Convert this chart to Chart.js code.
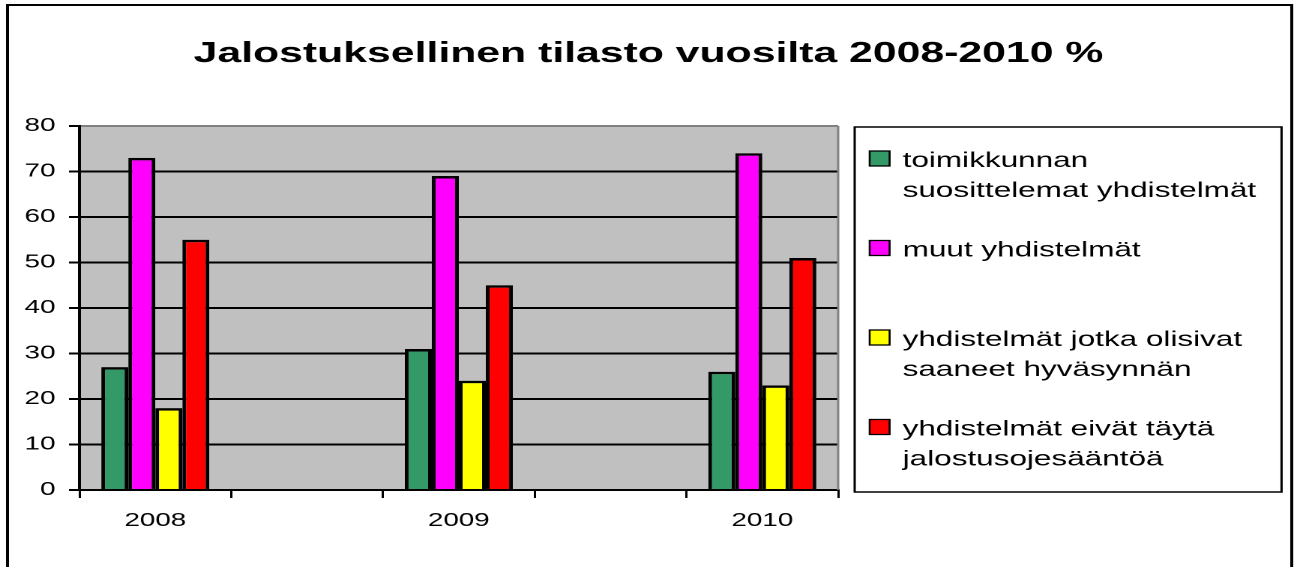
<!DOCTYPE html>
<html>
<head>
<meta charset="utf-8">
<script src="https://cdn.jsdelivr.net/npm/chart.js"></script>
<style>
  html, body { margin: 0; padding: 0; background: #fff; overflow: hidden; }
  /* the chart is laid out narrow and stretched sideways */
  #wrap { position: absolute; left: 0; top: 0; width: 865px; height: 567px;
          transform: scaleX(1.4994); transform-origin: 0 0; }
</style>
</head>
<body>
<div id="wrap"><canvas id="chart"></canvas></div>
<script>
// ---------- data ----------
const titleText = 'Jalostuksellinen tilasto vuosilta 2008-2010 %';
const years = ['2008', '', '2009', '', '2010'];   // empty slots between years
const seriesNames = [
  ['toimikkunnan', 'suosittelemat yhdistelmät'],
  ['muut yhdistelmät'],
  ['yhdistelmät jotka olisivat', 'saaneet hyväsynnän'],
  ['yhdistelmät eivät täytä', 'jalostusojesääntöä']
];
const toimikunta = [27, null, 31, null, 26];
const muut = [73, null, 69, null, 74];
const hyvasynta = [18, null, 24, null, 23];
const eivatTayta = [55, null, 45, null, 51];
const yTicks = { min: 0, max: 80, step: 10 };

const FONT = '"Liberation Sans", Arial, sans-serif';
const colors = ['#339966', '#ff00ff', '#ffff00', '#ff0000'];
const values = [toimikunta, muut, hyvasynta, eivatTayta];

// grey plot background, frame, title and the boxed legend
const framePlugin = {
  id: 'frame',
  beforeDraw(chart) {
    const { ctx, chartArea: a } = chart;
    ctx.save();
    ctx.fillStyle = '#c0c0c0';
    ctx.fillRect(a.left, a.top, a.right - a.left, a.bottom - a.top);
    ctx.restore();
  },
  afterDraw(chart) {
    const { ctx, chartArea: a } = chart;
    ctx.save();
    // right edge of plot
    ctx.strokeStyle = '#808080';
    ctx.lineWidth = 1.5;
    ctx.beginPath();
    ctx.moveTo(a.right, a.top);
    ctx.lineTo(a.right, a.bottom);
    ctx.stroke();

    // outer frame (bottom edge falls outside the page)
    ctx.strokeStyle = '#000';
    ctx.lineWidth = 2;
    ctx.beginPath();
    ctx.moveTo(5, 600);
    ctx.lineTo(5, 5);
    ctx.lineTo(861.5, 5);
    ctx.lineTo(861.5, 600);
    ctx.stroke();

    // title
    ctx.fillStyle = '#000';
    ctx.font = 'bold 28.5px ' + FONT;
    ctx.textAlign = 'center';
    ctx.textBaseline = 'alphabetic';
    ctx.fillText(titleText, 432.5, 62);

    // legend box
    ctx.lineWidth = 1.5;
    ctx.strokeRect(570, 127, 284.7, 365);
    ctx.font = '21px ' + FONT;
    ctx.textAlign = 'left';
    chart.data.datasets.forEach((ds, i) => {
      const base = 167 + i * 89.5;
      ctx.fillStyle = ds.backgroundColor;
      ctx.fillRect(580, base - 16, 13.3, 15);
      ctx.strokeStyle = '#000';
      ctx.lineWidth = 1.3;
      ctx.strokeRect(580, base - 16, 13.3, 15);
      ctx.fillStyle = '#000';
      seriesNames[i].forEach((line, j) => ctx.fillText(line, 602, base + j * 30));
    });
    ctx.restore();
  }
};

new Chart(document.getElementById('chart'), {
  type: 'bar',
  data: {
    labels: years,
    datasets: values.map((v, i) => ({
      label: seriesNames[i].join(' '),
      data: v,
      backgroundColor: colors[i],
      borderColor: '#000',
      borderWidth: 2.5,
      categoryPercentage: 0.712,
      barPercentage: 1.0
    }))
  },
  options: {
    responsive: true,
    maintainAspectRatio: false,
    devicePixelRatio: 2,
    animation: false,
    layout: { padding: { left: 5, right: 306, top: 126, bottom: 35 } },
    plugins: {
      legend: { display: false },
      title: { display: false },
      tooltip: { enabled: false }
    },
    scales: {
      x: {
        afterFit: s => { s.height = 42; },
        offset: true,
        grid: {
          offset: true,
          drawOnChartArea: false,
          tickLength: 8,
          color: '#000',
          lineWidth: 1.5
        },
        border: { color: '#000', width: 2 },
        ticks: {
          color: '#000',
          font: { family: FONT, size: 18.5 },
          padding: 12,
          maxRotation: 0,
          autoSkip: false
        }
      },
      y: {
        afterFit: s => { s.width = 48; },
        min: yTicks.min,
        max: yTicks.max,
        grid: {
          color: c => (c.tick && c.tick.value === yTicks.max ? '#808080' : '#000'),
          tickColor: '#000',
          lineWidth: 2,
          tickLength: 7
        },
        border: { color: '#000', width: 2 },
        ticks: {
          stepSize: yTicks.step,
          color: '#000',
          font: { family: FONT, size: 18.5 },
          padding: 9
        }
      }
    }
  },
  plugins: [framePlugin]
});
</script>
</body>
</html>
